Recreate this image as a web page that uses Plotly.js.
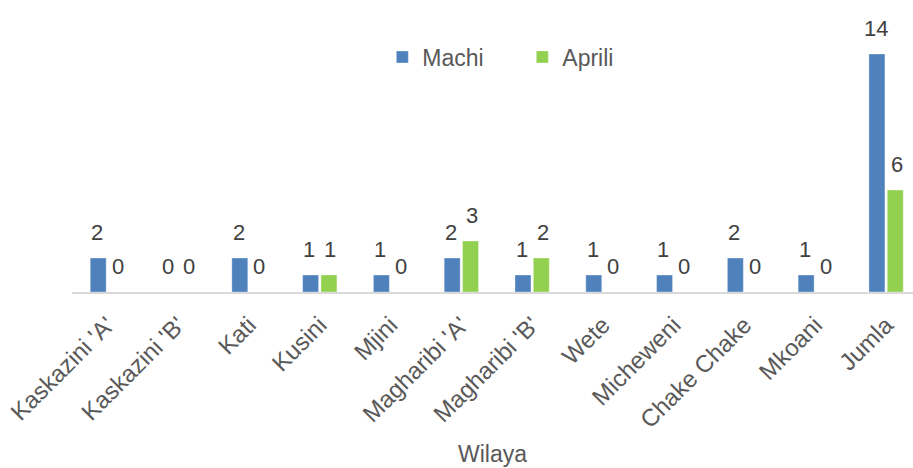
<!DOCTYPE html>
<html>
<head>
<meta charset="utf-8">
<script src="https://cdn.plot.ly/plotly-3.0.1.min.js"></script>
<style>
html,body{margin:0;padding:0;background:#fff}
#chart{width:913px;height:468px}
</style>
</head>
<body>
<div id="chart"></div>
<script>
var categories = ["Kaskazini 'A'", "Kaskazini 'B'", "Kati", "Kusini", "Mjini", "Magharibi 'A'", "Magharibi 'B'", "Wete", "Micheweni", "Chake Chake", "Mkoani", "Jumla"];
var machi = [2, 0, 2, 1, 1, 2, 1, 1, 1, 2, 1, 14];
var aprili = [0, 0, 0, 1, 0, 3, 2, 0, 0, 0, 0, 6];
var seriesNames = ["Machi", "Aprili"];
var seriesColors = ['#4f81bd', '#92d050'];

var FONT = '"Liberation Sans", Arial, sans-serif';
var series = [machi, aprili];

var data = series.map(function (vals, i) {
  return {
    type: 'bar', name: seriesNames[i], x: categories, y: vals,
    marker: {color: seriesColors[i], line: {color: 'rgba(255,255,255,0.35)', width: 1}},
    hoverinfo: 'x+y'
  };
});

var annotations = [];
series.forEach(function (vals, i) {
  vals.forEach(function (v, j) {
    annotations.push({
      x: categories[j], y: v, xref: 'x', yref: 'y',
      text: String(v), showarrow: false,
      xanchor: 'center', yanchor: 'bottom',
      xshift: (i === 0 ? -1 : 1) * 10.4, yshift: 11,
      font: {family: FONT, size: 22, color: '#404040'}
    });
  });
});

var layout = {
  width: 913, height: 468,
  margin: {l: 72, r: 0, t: 20, b: 176},
  paper_bgcolor: '#fff', plot_bgcolor: '#fff',
  font: {family: FONT, color: '#595959'},
  barmode: 'group', bargap: 0.482, bargroupgap: 0.128,
  showlegend: true,
  legend: {orientation: 'h', x: 0.369, xanchor: 'left', y: 0.864, yanchor: 'middle',
           font: {family: FONT, size: 23, color: '#595959'}, itemwidth: 30,
           entrywidth: 95, entrywidthmode: 'pixels', bgcolor: 'rgba(0,0,0,0)'},
  annotations: annotations,
  xaxis: {
    type: 'category', range: [-0.5, 11.38], tickangle: -45,
    tickfont: {family: FONT, size: 24, color: '#595959'},
    ticklabelstandoff: 8,
    showline: true, linecolor: '#d9d9d9', linewidth: 1.5, ticks: '', showgrid: false,
    title: {text: 'Wilaya', font: {family: FONT, size: 23, color: '#595959'}, standoff: 14}
  },
  yaxis: {range: [0, 16], visible: false, showgrid: false, zeroline: false}
};
Plotly.newPlot('chart', data, layout, {displayModeBar: false, staticPlot: true});
</script>
</body>
</html>
